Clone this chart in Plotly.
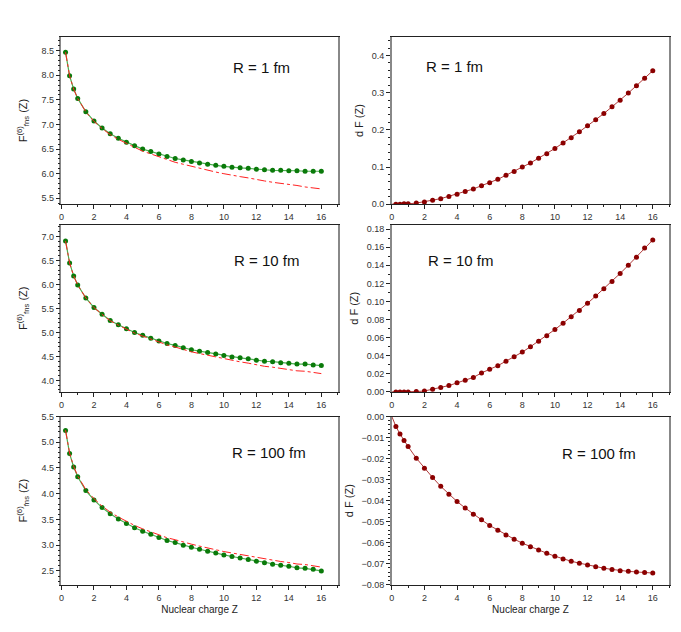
import plotly.graph_objects as go
from plotly.subplots import make_subplots

# nuclear charge grid
z = [0.25, 0.5, 0.75, 1, 1.5, 2, 2.5, 3, 3.5, 4, 4.5, 5, 5.5, 6, 6.5, 7, 7.5,
     8, 8.5, 9, 9.5, 10, 10.5, 11, 11.5, 12, 12.5, 13, 13.5, 14, 14.5, 15, 15.5, 16]

# R = 1 fm
f_num_r1 = [8.47, 7.99, 7.72, 7.53, 7.26, 7.07, 6.93, 6.81, 6.72, 6.64, 6.57, 6.50,
            6.45, 6.40, 6.35, 6.31, 6.28, 6.25, 6.22, 6.19, 6.17, 6.15, 6.13, 6.12,
            6.11, 6.09, 6.08, 6.07, 6.07, 6.06, 6.06, 6.05, 6.05, 6.05]
f_fit_r1 = [8.47, 7.99, 7.72, 7.529, 7.257, 7.064, 6.919, 6.795, 6.699, 6.613, 6.536,
            6.459, 6.400, 6.342, 6.283, 6.232, 6.192, 6.150, 6.109, 6.066, 6.034,
            6.000, 5.965, 5.941, 5.915, 5.879, 5.853, 5.826, 5.808, 5.780, 5.761,
            5.731, 5.711, 5.691]
df_r1 = [0.0, 0.0, 0.001, 0.001, 0.003, 0.006, 0.011, 0.015, 0.021, 0.027, 0.034,
         0.041, 0.050, 0.058, 0.067, 0.078, 0.088, 0.100, 0.111, 0.124, 0.136,
         0.150, 0.165, 0.179, 0.195, 0.211, 0.227, 0.244, 0.262, 0.280, 0.299,
         0.319, 0.339, 0.359]

# R = 10 fm
f_num_r10 = [6.91, 6.45, 6.18, 5.99, 5.72, 5.52, 5.38, 5.25, 5.16, 5.08, 5.00, 4.94,
             4.88, 4.82, 4.77, 4.73, 4.68, 4.64, 4.61, 4.58, 4.55, 4.52, 4.49, 4.47,
             4.45, 4.42, 4.40, 4.39, 4.37, 4.36, 4.34, 4.34, 4.32, 4.31]
f_fit_r10 = [6.91, 6.45, 6.18, 5.99, 5.72, 5.519, 5.377, 5.245, 5.153, 5.070, 4.987,
             4.924, 4.859, 4.795, 4.741, 4.696, 4.641, 4.596, 4.560, 4.524, 4.488,
             4.451, 4.414, 4.387, 4.360, 4.322, 4.294, 4.276, 4.248, 4.229, 4.200,
             4.191, 4.161, 4.142]
df_r10 = [0.0, 0.0, 0.0, 0.0, 0.0004, 0.001, 0.003, 0.005, 0.007, 0.010, 0.013,
          0.016, 0.021, 0.025, 0.029, 0.034, 0.039, 0.044, 0.050, 0.056, 0.062,
          0.069, 0.076, 0.083, 0.090, 0.098, 0.106, 0.114, 0.122, 0.131, 0.140,
          0.149, 0.159, 0.168]

# R = 100 fm
f_num_r100 = [5.23, 4.78, 4.52, 4.33, 4.06, 3.88, 3.73, 3.61, 3.51, 3.42, 3.34, 3.27,
              3.21, 3.15, 3.09, 3.05, 3.00, 2.96, 2.92, 2.88, 2.85, 2.81, 2.78, 2.75,
              2.72, 2.69, 2.66, 2.63, 2.61, 2.59, 2.56, 2.55, 2.53, 2.50]
f_fit_r100 = [5.235, 4.788, 4.531, 4.344, 4.080, 3.905, 3.759, 3.643, 3.547, 3.460,
              3.384, 3.317, 3.259, 3.202, 3.144, 3.106, 3.058, 3.020, 2.982, 2.944,
              2.915, 2.876, 2.848, 2.819, 2.790, 2.761, 2.731, 2.702, 2.683, 2.663,
              2.634, 2.624, 2.604, 2.574]
df_r100 = [-0.0047, -0.0083, -0.0114, -0.0143, -0.0198, -0.0246, -0.0290, -0.0332,
           -0.0370, -0.0404, -0.0435, -0.0465, -0.0491, -0.0518, -0.0541, -0.0563,
           -0.0583, -0.0602, -0.0619, -0.0635, -0.0650, -0.0664, -0.0677, -0.0688,
           -0.0697, -0.0706, -0.0714, -0.0721, -0.0727, -0.0733, -0.0736, -0.0739,
           -0.0742, -0.0744]

radius_labels = ["R = 1 fm", "R = 10 fm", "R = 100 fm"]

FONT = "Liberation Sans, Arial, sans-serif"

fig = make_subplots(rows=3, cols=2)

rows = [
    (f_num_r1, f_fit_r1, df_r1),
    (f_num_r10, f_fit_r10, df_r10),
    (f_num_r100, f_fit_r100, df_r100),
]

for i, (f_num, f_fit, df) in enumerate(rows, start=1):
    # numerical F with markers, asymptotic fit as red dash-dot
    fig.add_trace(go.Scatter(
        x=z, y=f_num, mode="lines+markers",
        line=dict(color="#4caf50", width=1.2),
        marker=dict(color="#0a7a0a", size=5),
        showlegend=False), row=i, col=1)
    fig.add_trace(go.Scatter(
        x=z, y=f_fit, mode="lines",
        line=dict(color="#ff2020", width=1, dash="dashdot"),
        showlegend=False), row=i, col=1)
    # difference, line starts from Z = 0
    fig.add_trace(go.Scatter(
        x=[0] + z, y=[0] + df, mode="lines",
        line=dict(color="#b03a3a", width=1),
        showlegend=False), row=i, col=2)
    fig.add_trace(go.Scatter(
        x=z, y=df, mode="markers",
        marker=dict(color="#8b0000", size=5),
        showlegend=False), row=i, col=2)

# pixel layout of the six frames (681 x 632)
W, H = 681, 632
col_px = [(50.7, 328), (382.5, 661)]
row_px = [(24.3, 194.3), (215, 385), (410, 581)]

y_ranges = [
    ([5.38, 8.78], 0.5, 0.1, ".1f"), ([0, 0.45], 0.1, 0.02, ".1f"),
    ([3.76, 7.25], 0.5, 0.1, ".1f"), ([0, 0.185], 0.02, 0.01, ".2f"),
    ([2.23, 5.5], 0.5, 0.1, ".1f"), ([-0.08, 0], 0.01, 0.002, ".2f"),
]

for i in range(3):
    for j in range(2):
        n = i * 2 + j + 1
        xa = "xaxis" if n == 1 else f"xaxis{n}"
        ya = "yaxis" if n == 1 else f"yaxis{n}"
        rng, dt, mdt, fmt = y_ranges[n - 1]
        fig.layout[xa].update(
            domain=[col_px[j][0] / W, col_px[j][1] / W],
            range=[0, 17], dtick=2, tick0=0,
            showgrid=False, zeroline=False,
            showline=True, linecolor="#222", linewidth=1, mirror=True,
            ticks="outside", ticklen=4, tickcolor="#222",
            minor=dict(dtick=1, ticklen=2, ticks="outside", tickcolor="#222"),
            tickfont=dict(family=FONT, size=9, color="#333"),
        )
        fig.layout[ya].update(
            domain=[1 - row_px[i][1] / H, 1 - row_px[i][0] / H],
            range=rng, dtick=dt, tick0=0, tickformat=fmt,
            showgrid=False, zeroline=False,
            showline=True, linecolor="#888", linewidth=1.5, mirror=True,
            ticks="outside", ticklen=4, tickcolor="#222",
            minor=dict(dtick=mdt, ticklen=2, ticks="outside", tickcolor="#222"),
            tickfont=dict(family=FONT, size=9, color="#333"),
            title=dict(
                text="F<sup>(6)</sup><sub>fns</sub> (Z)" if j == 0 else "d F (Z)",
                font=dict(family=FONT, size=11, color="#222"),
                standoff=12 if j == 0 else 6,
            ),
        )
        if i == 2:
            fig.layout[xa].update(title=dict(
                text="Nuclear charge Z",
                font=dict(family=FONT, size=10, color="#222"),
                standoff=4,
            ))

label_pos = [
    (0.726, 0.815), (0.225, 0.822),
    (0.742, 0.784), (0.248, 0.784),
    (0.751, 0.785), (0.747, 0.780),
]
for n, (ax, ay) in enumerate(label_pos, start=1):
    suffix = "" if n == 1 else str(n)
    fig.add_annotation(
        text=radius_labels[(n - 1) // 2],
        x=ax, y=ay, xref=f"x{suffix} domain", yref=f"y{suffix} domain",
        showarrow=False, xanchor="center", yanchor="middle",
        font=dict(family=FONT, size=15, color="#111"),
    )

fig.update_layout(
    width=W, height=H,
    margin=dict(l=0, r=0, t=0, b=0),
    paper_bgcolor="white", plot_bgcolor="white",
    font=dict(family=FONT),
)

fig.write_html("out.html")
